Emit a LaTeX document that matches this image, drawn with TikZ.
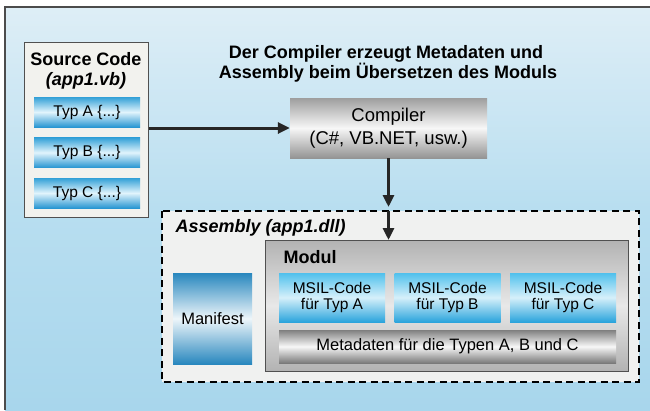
\documentclass[tikz,border=0pt]{standalone}
\usepackage{fontspec}
\setmainfont{Liberation Sans}
\usetikzlibrary{arrows.meta}
\definecolor{bgtop}{RGB}{222,238,246}
\definecolor{bgmid}{RGB}{184,222,240}
\definecolor{bgbot}{RGB}{168,214,236}
\definecolor{srcfill}{RGB}{242,242,238}
\definecolor{framec}{RGB}{80,80,80}
\definecolor{typtop}{RGB}{50,160,215}
\definecolor{typmid}{RGB}{225,244,252}
\definecolor{typbot}{RGB}{40,150,210}
\definecolor{msiltop}{RGB}{80,192,236}
\definecolor{msilmid}{RGB}{214,240,250}
\definecolor{msilbot}{RGB}{42,164,220}
\definecolor{mantop}{RGB}{40,135,190}
\definecolor{manmid}{RGB}{238,246,250}
\definecolor{asmfill}{RGB}{240,241,240}
\begin{document}
\begin{tikzpicture}[x=1pt,y=-1pt,
  bigbold/.style={font=\fontsize{18}{21}\selectfont\bfseries},
  srcbox/.style={draw=framec,line width=1pt,fill=srcfill},
  typbar/.style={top color=typtop,bottom color=typbot,middle color=typmid,
    minimum width=106pt,minimum height=30pt,inner sep=0pt,
    font=\fontsize{15.5}{17}\selectfont},
  compbox/.style={top color=black!38,bottom color=black!42,middle color=black!3,
    minimum width=197pt,minimum height=60pt,inner sep=0pt,align=center,
    font=\fontsize{18.5}{23.5}\selectfont},
  asmbox/.style={draw=black,line width=1.2pt,dash pattern=on 7pt off 4.5pt,fill=asmfill},
  modbox/.style={draw=framec,line width=1pt,top color=black!30,bottom color=black!30,middle color=black!9},
  msil/.style={top color=msiltop,bottom color=msilbot,middle color=msilmid,
    minimum width=106pt,minimum height=49pt,inner sep=0pt,align=center,
    font=\fontsize{15.5}{16.5}\selectfont},
  manif/.style={top color=mantop,bottom color=mantop,middle color=manmid,
    minimum width=79pt,minimum height=91pt,inner sep=0pt,
    font=\fontsize{16.5}{18}\selectfont},
  meta/.style={top color=black!50,bottom color=black!52,middle color=black!3,
    minimum width=337pt,minimum height=33pt,inner sep=0pt,
    font=\fontsize{16.5}{18}\selectfont},
  arr/.style={line width=3pt,black!85,-{Triangle[length=12pt,width=11pt]}}]
\useasboundingbox (0,0) rectangle (650,410);
\fill[white] (0,0) rectangle (650,410);
\shade[top color=bgtop,bottom color=bgbot,middle color=bgmid] (5,7) rectangle (650,410);
\draw[line width=1.4pt,black!70] (5,410) -- (5,7) -- (650,7);

% source code
\node[srcbox,minimum width=124pt,minimum height=175pt,inner sep=0pt] (src) at (86,129.5) {};
\node[bigbold,anchor=base] (srcA) at (86,65) {Source Code};
\node[bigbold,anchor=base] (srcB) at (86,85.5) {\itshape (app1.vb)};
\node[typbar] (typA) at (87,112) {Typ A \{...\}};
\node[typbar] (typB) at (87,152.5) {Typ B \{...\}};
\node[typbar] (typC) at (87,193) {Typ C \{...\}};

% title
\node[bigbold,anchor=base] (t1) at (386,58) {Der Compiler erzeugt Metadaten und};
\node[bigbold,anchor=base] (t2) at (388,78.5) {Assembly beim Übersetzen des Moduls};

% compiler
\node[compbox] (comp) at (388.5,128) {Compiler\\(C\#, VB.NET, usw.)};

% assembly
\draw[asmbox] (162,211) rectangle (639,382);
\coordinate (asmtop) at (388.5,211);
\node[bigbold,anchor=base west] (asmlbl) at (172,232) {\itshape Assembly (app1.dll)};
\draw[modbox] (265,240) rectangle (628,371);
\coordinate (modtop) at (388.5,240);
\node[bigbold,anchor=base west] (modlbl) at (280,263) {Modul};
\node[msil] (mA) at (332,297.5) {MSIL-Code\\für Typ A};
\node[msil] (mB) at (447.5,297.5) {MSIL-Code\\für Typ B};
\node[msil] (mC) at (563,297.5) {MSIL-Code\\für Typ C};
\node[meta] (meta) at (447.5,346.5) {Metadaten für die Typen A, B und C};
\node[manif] (man) at (212.5,318.5) {Manifest};

% arrows
\draw[arr] (src.east |- comp.west) -- (comp.west);
\draw[arr,shorten >=4pt] (comp.south) -- (asmtop);
\draw[arr] (asmtop) -- (modtop);
\end{tikzpicture}
\end{document}
